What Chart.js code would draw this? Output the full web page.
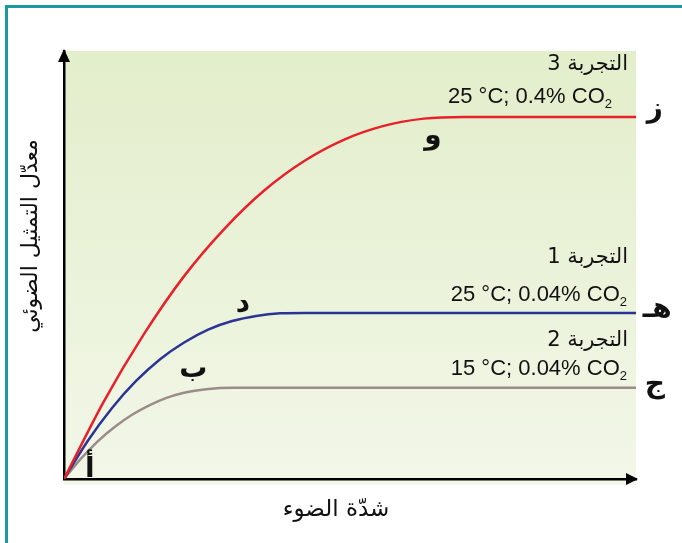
<!DOCTYPE html>
<html>
<head>
<meta charset="utf-8">
<script src="https://cdn.jsdelivr.net/npm/chart.js@4.4.1/dist/chart.umd.min.js"></script>
<style>
  html, body { margin: 0; padding: 0; background: #fff; }
  #wrap { width: 682px; height: 543px; }
</style>
</head>
<body>
<div id="wrap"><canvas id="chart" width="682" height="543"></canvas></div>
<script>
// Light intensity (x) vs photosynthesis rate (y)
const exp3X = [0, 7.0, 14.0, 21.0, 28.0, 35.0, 42.0, 49.0, 55.9, 62.9, 69.9, 100];
const exp3Y = [0, 18.2, 33.9, 47.4, 58.4, 67.4, 74.3, 79.3, 82.5, 84.2, 84.6, 84.6];

const exp1X = [0, 4.2, 8.4, 12.6, 16.8, 21.0, 25.2, 29.4, 33.6, 37.8, 42.0, 100];
const exp1Y = [0, 9.0, 16.6, 22.9, 28.0, 31.9, 34.9, 36.9, 38.1, 38.7, 38.8, 38.8];

const exp2X = [0, 3.0, 5.9, 8.9, 11.9, 14.9, 17.8, 20.8, 23.8, 26.7, 29.7, 100];
const exp2Y = [0, 4.8, 8.8, 12.2, 15.0, 17.2, 18.9, 20.1, 20.8, 21.2, 21.3, 21.3];

const xTitle = 'شدّة الضوء';
const yTitle = 'معدّل التمثيل الضوئي';

const expNames = ['التجربة 3', 'التجربة 1', 'التجربة 2'];
const expConditions = ['25 °C; 0.4% CO', '25 °C; 0.04% CO', '15 °C; 0.04% CO'];

// letters marking points on the curves (data coordinates)
const letters = ['أ', 'ب', 'د', 'و', 'ز', 'هـ', 'ج'];
const letterX = [4.5, 22.6, 31.3, 64.5, 103.3, 103.7, 103.3];
const letterY = [2.1, 25.5, 40.7, 79.9, 86.2, 39.5, 22.0];

function pts(xs, ys) {
  return xs.map((x, i) => ({ x: x, y: ys[i] }));
}

const arabicFont = '"DejaVu Sans", sans-serif';

const decorPlugin = {
  id: 'decor',
  beforeDraw(chart) {
    const ctx = chart.ctx;
    const a = chart.chartArea;
    ctx.save();
    ctx.fillStyle = '#ffffff';
    ctx.fillRect(0, 0, chart.width, chart.height);
    // teal frame
    ctx.fillStyle = '#1b98a0';
    ctx.fillRect(5, 5, chart.width - 5, 3);
    ctx.fillRect(5, 5, 3, chart.height - 5);
    // green panel
    const g = ctx.createLinearGradient(0, a.top, 0, a.bottom + 6);
    g.addColorStop(0, '#e3eecb');
    g.addColorStop(1, '#f2f7e8');
    ctx.fillStyle = g;
    ctx.fillRect(a.left, a.top, a.right - a.left, a.bottom - a.top + 6);
    ctx.restore();
  },
  afterDraw(chart) {
    const ctx = chart.ctx;
    const a = chart.chartArea;
    const xs = chart.scales.x, ys = chart.scales.y;
    ctx.save();
    // arrow heads
    ctx.fillStyle = '#000';
    ctx.beginPath();
    ctx.moveTo(a.left, a.top - 2);
    ctx.lineTo(a.left - 6, a.top + 11);
    ctx.lineTo(a.left + 6, a.top + 11);
    ctx.closePath();
    ctx.fill();
    ctx.beginPath();
    ctx.moveTo(a.right + 2, a.bottom);
    ctx.lineTo(a.right - 10, a.bottom - 6);
    ctx.lineTo(a.right - 10, a.bottom + 6);
    ctx.closePath();
    ctx.fill();

    // axis titles
    ctx.fillStyle = '#111';
    ctx.textBaseline = 'middle';
    ctx.textAlign = 'center';
    ctx.direction = 'rtl';
    ctx.font = '23px ' + arabicFont;
    ctx.fillText(xTitle, 336, 510);
    ctx.save();
    ctx.translate(31, 236);
    ctx.rotate(-Math.PI / 2);
    ctx.font = '22px ' + arabicFont;
    ctx.fillText(yTitle, 0, 0);
    ctx.restore();

    // experiment labels
    const nameY = [65, 258, 341];
    const condY = [97, 295, 369];
    const condRight = [612, 627, 627];
    for (let i = 0; i < expNames.length; i++) {
      ctx.direction = 'rtl';
      ctx.textAlign = 'right';
      ctx.font = '21px ' + arabicFont;
      ctx.fillText(expNames[i], 628, nameY[i]);
      ctx.direction = 'ltr';
      ctx.font = '13px "Liberation Sans", Arial, sans-serif';
      const sw = ctx.measureText('2').width;
      ctx.fillText('2', condRight[i], condY[i] + 7);
      ctx.font = '22px "Liberation Sans", Arial, sans-serif';
      ctx.fillText(expConditions[i], condRight[i] - sw, condY[i]);
    }

    // point letters
    ctx.direction = 'rtl';
    ctx.textAlign = 'center';
    ctx.font = 'bold 28px ' + arabicFont;
    for (let i = 0; i < letters.length; i++) {
      ctx.fillText(letters[i], xs.getPixelForValue(letterX[i]), ys.getPixelForValue(letterY[i]));
    }
    ctx.restore();
  }
};

new Chart(document.getElementById('chart'), {
  type: 'line',
  data: {
    datasets: [
      { label: 'التجربة 3', data: pts(exp3X, exp3Y), borderColor: '#e8202a', borderWidth: 2.5 },
      { label: 'التجربة 1', data: pts(exp1X, exp1Y), borderColor: '#2b3493', borderWidth: 2.5 },
      { label: 'التجربة 2', data: pts(exp2X, exp2Y), borderColor: '#9b8b8a', borderWidth: 2.5 }
    ]
  },
  options: {
    responsive: false,
    animation: false,
    layout: { padding: { top: 51, right: 46, left: 0, bottom: 0 } },
    elements: {
      point: { radius: 0 },
      line: { cubicInterpolationMode: 'monotone', fill: false }
    },
    plugins: {
      legend: { display: false },
      tooltip: { enabled: false }
    },
    scales: {
      x: {
        type: 'linear', min: 0, max: 100,
        grid: { display: false },
        ticks: { display: false },
        border: { color: '#000', width: 2.5 },
        afterFit(scale) { scale.height = 64; }
      },
      y: {
        type: 'linear', min: 0, max: 100,
        grid: { display: false },
        ticks: { display: false },
        border: { color: '#000', width: 2.5 },
        afterFit(scale) { scale.width = 64; }
      }
    }
  },
  plugins: [decorPlugin]
});
</script>
</body>
</html>
